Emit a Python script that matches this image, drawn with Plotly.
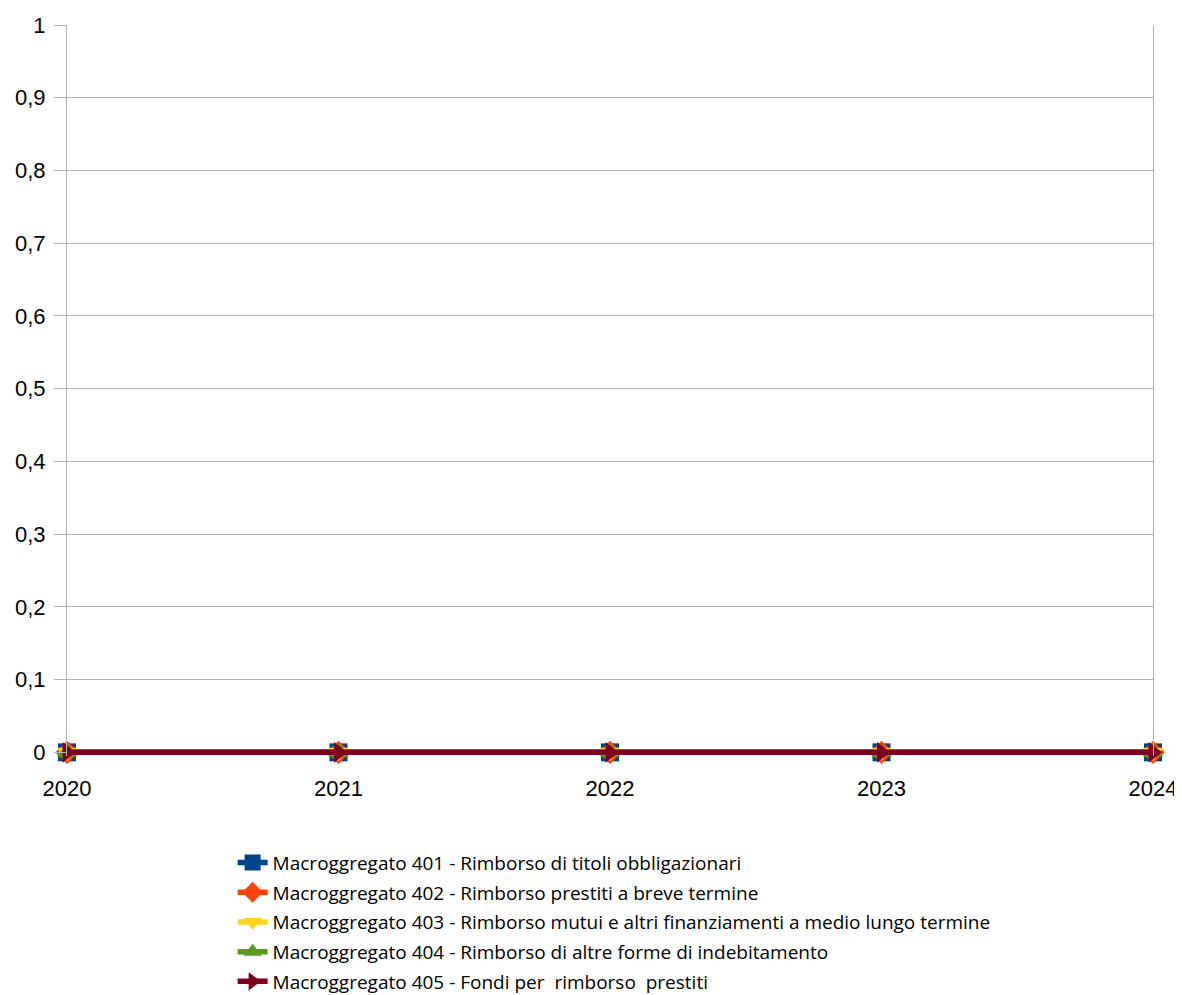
import plotly.graph_objects as go

years = [2020, 2021, 2022, 2023, 2024]

series_names = [
    "Macroggregato 401 - Rimborso di titoli obbligazionari",
    "Macroggregato 402 - Rimborso prestiti a breve termine",
    "Macroggregato 403 - Rimborso mutui e altri finanziamenti a medio lungo termine",
    "Macroggregato 404 - Rimborso di altre forme di indebitamento",
    "Macroggregato 405 - Fondi per  rimborso  prestiti",
]
v401 = [0, 0, 0, 0, 0]
v402 = [0, 0, 0, 0, 0]
v403 = [0, 0, 0, 0, 0]
v404 = [0, 0, 0, 0, 0]
v405 = [0, 0, 0, 0, 0]

colors = ["#004586", "#ff420e", "#ffd320", "#579d1c", "#7e0021"]
symbols = ["square", "diamond", "triangle-down", "triangle-up", "triangle-right"]

fig = go.Figure()
for i, (name, vals) in enumerate(zip(series_names, [v401, v402, v403, v404, v405])):
    fig.add_trace(go.Scatter(
        x=years, y=vals, name=name, mode="lines+markers",
        line=dict(color=colors[i], width=5.5),
        marker=dict(symbol=symbols[i], size=18, color=colors[i]),
        cliponaxis=False, legendgroup=f"g{i}",
    ))

# page body has an 8px margin, so the figure is a bit smaller than the window
fig.update_layout(
    width=1174, height=987,
    margin=dict(l=59, r=29, t=17, b=239, autoexpand=False),
    plot_bgcolor="white", paper_bgcolor="white",
    separators=", ",
    font=dict(family="Liberation Sans, Arial", size=22, color="black"),
    showlegend=True,
    legend=dict(
        x=0.1525, y=-0.12, xanchor="left", yanchor="top",
        font=dict(family="Open Sans", size=19, color="black"),
        tracegroupgap=2,
    ),
)
# slight negative floor so the zero line is not half clipped by the plot area
fig.update_xaxes(
    range=[2020, 2024], tickvals=years, showgrid=False, zeroline=False,
    showline=False, ticks="", automargin=False,
    ticklabelstandoff=17,
)
fig.update_yaxes(
    range=[-0.005, 1], tickvals=[0, 0.1, 0.2, 0.3, 0.4, 0.5, 0.6, 0.7, 0.8, 0.9, 1],
    showgrid=True, gridcolor="#b3b3b3",
    zeroline=False, showline=True, linecolor="#b3b3b3", mirror=True,
    ticks="outside", ticklen=12, tickcolor="#b3b3b3", tickformat=".1~f",
    ticklabelstandoff=4, automargin=False,
)

fig.write_html("out.html")
